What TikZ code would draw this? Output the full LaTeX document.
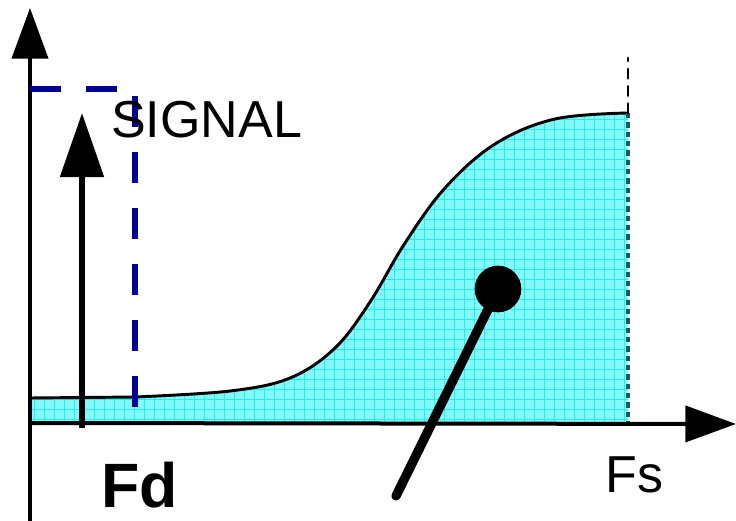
\documentclass[tikz,border=0pt]{standalone}
\usepackage{fontspec}
\setmainfont{Liberation Sans}
\usetikzlibrary{arrows.meta,positioning}

\definecolor{sigblue}{RGB}{0,0,150}
\definecolor{bandfill}{RGB}{130,250,250}
\definecolor{bandgrid}{RGB}{40,235,235}
\definecolor{edgeteal}{RGB}{20,90,90}

\begin{document}
\begin{tikzpicture}[
  x=0.75pt,y=-0.75pt,
  axis/.style={line width=3pt, -{Triangle[length=38pt,width=27pt]}},
  sigarrow/.style={line width=4.5pt, -{Triangle[length=48pt,width=32pt]}},
  mask/.style={sigblue, line width=4.5pt, dash pattern=on 23pt off 19pt},
  curveline/.style={line width=2.2pt},
  label/.style={inner sep=0pt, anchor=base west}
]
\useasboundingbox (0,0) rectangle (736,521);

% noise band under the sigmoid
\coordinate (o) at (30,423);
\coordinate (fsbot) at (628,423);
\coordinate (fstop) at (628,113);
\begin{scope}
  \clip (30,423) -- (30,398) -- plot[smooth, tension=0.6] coordinates {(135,397) (230,391) (290,378) (335,348) (370,302) (405,243) (445,188) (495,144) (555,119) (628,113)} -- (fsbot) -- cycle;
  \fill[bandfill] (30,100) rectangle (628,423);
  \foreach \gx in {34,44,...,628} \draw[bandgrid, line width=0.5pt] (\gx,100) -- (\gx,423);
  \foreach \gy in {419,409,...,100} \draw[bandgrid, line width=0.5pt] (30,\gy) -- (628,\gy);
\end{scope}
\draw[curveline] (30,398) -- plot[smooth, tension=0.6] coordinates {(135,397) (230,391) (290,378) (335,348) (370,302) (405,243) (445,188) (495,144) (555,119) (628,113)};
\draw[edgeteal, line width=2.5pt, dash pattern=on 4pt off 3pt] (fstop) -- (fsbot);
\draw[line width=2.2pt, dash pattern=on 7pt off 6pt, line cap=round] (fstop) -- (628,58);

% axes
\coordinate (ytip) at (30,8);
\coordinate (xtip) at (736,424);
\draw[axis] (30,521) -- (ytip);
\draw[axis] (o) -- (xtip);

% signal
\coordinate (sigbase) at (82,428);
\coordinate (sigtip) at (82,113);
\draw[sigarrow] (sigbase) -- (sigtip);
\draw[mask] (30,89) -- (135,89) -- (135,407);

% probe
\node[circle, fill=black, minimum size=35pt, inner sep=0pt] (probe) at (498,289) {};
\coordinate (probeend) at (396,496);
\draw[line width=7pt, line cap=round] (probe.center) -- (probeend);

% labels
\node[label, font=\fontsize{39pt}{39pt}\selectfont] (signal) at (111,137) {SIGNAL};
\node[label, font=\fontsize{47pt}{47pt}\selectfont\bfseries] (fd) at (101,507) {Fd};
\node[label, font=\fontsize{39pt}{39pt}\selectfont] (fs) at (605,492) {Fs};
\end{tikzpicture}
\end{document}
